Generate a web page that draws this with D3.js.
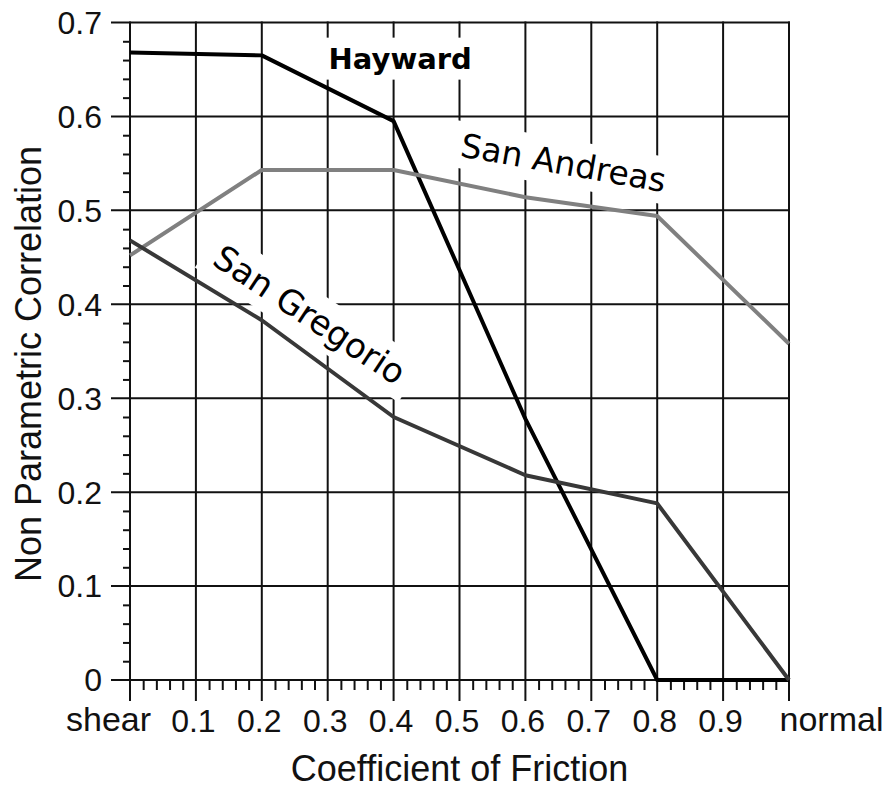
<!DOCTYPE html>
<html><head><meta charset="utf-8">
<script src="https://cdn.jsdelivr.net/npm/d3@7"></script>
<style>body{margin:0;background:#fff}svg{display:block}</style>
</head><body><svg id="c" width="889" height="789"></svg>
<script>
// ---- data ----
const frictionValues = [0, 0.2, 0.4, 0.6, 0.8, 1.0];
const hayward     = [0.668, 0.665, 0.595, 0.278, 0.0, 0.0];
const sanAndreas  = [0.452, 0.543, 0.543, 0.514, 0.494, 0.358];
const sanGregorio = [0.468, 0.383, 0.280, 0.218, 0.188, 0.0];
const seriesNames = ["Hayward", "San Andreas", "San Gregorio"];
const xTickValues = [0, 0.1, 0.2, 0.3, 0.4, 0.5, 0.6, 0.7, 0.8, 0.9, 1.0];
const xTickLabels = ["shear", "0.1", "0.2", "0.3", "0.4", "0.5", "0.6", "0.7", "0.8", "0.9", "normal"];
const yTickValues = [0, 0.1, 0.2, 0.3, 0.4, 0.5, 0.6, 0.7];
const yTickLabels = ["0", "0.1", "0.2", "0.3", "0.4", "0.5", "0.6", "0.7"];
const xTitle = "Coefficient of Friction";
const yTitle = "Non Parametric Correlation";

// ---- layout ----
const svg = d3.select("#c");
const x = d3.scaleLinear().domain([0, 1]).range([130, 789]);
const y = d3.scaleLinear().domain([0, 0.7]).range([680, 22.5]);
const numFont = "'Liberation Sans', Arial, sans-serif";
const wordFont = "'Liberation Sans', Arial, sans-serif";
const labelFont = "'DejaVu Sans', Verdana, sans-serif";
const ink = "#111";

const series = [
  {name: seriesNames[0], values: hayward, color: "#000000", lx: 0.41, ly: 0.662, angle: 0, bold: true, size: 29},
  {name: seriesNames[1], values: sanAndreas, color: "#808080", lx: 0.658, ly: 0.551, angle: 10, bold: false, size: 33},
  {name: seriesNames[2], values: sanGregorio, color: "#383838", lx: 0.273, ly: 0.389, angle: 33.5, bold: false, size: 34}
];

// grid
const grid = svg.append("g").attr("stroke", ink).attr("stroke-width", 2);
grid.selectAll("line.v").data(xTickValues).join("line")
  .attr("x1", d => x(d)).attr("x2", d => x(d))
  .attr("y1", y(0.7) - 1).attr("y2", y(0) + 21);
grid.selectAll("line.h").data(yTickValues).join("line")
  .attr("x1", x(0) - 19).attr("x2", x(1) + 1)
  .attr("y1", d => y(d)).attr("y2", d => y(d));

// minor ticks via axes
const xMinor = d3.range(0, 1.0001, 0.02).filter(v => Math.abs(v * 10 - Math.round(v * 10)) > 1e-6);
const yMinor = d3.range(0, 0.7001, 0.02).filter(v => Math.abs(v * 10 - Math.round(v * 10)) > 1e-6);
const gxm = svg.append("g").attr("transform", `translate(0,${y(0)})`)
  .call(d3.axisBottom(x).tickValues(xMinor).tickSize(10).tickFormat(""));
const gym = svg.append("g").attr("transform", `translate(${x(0)},0)`)
  .call(d3.axisLeft(y).tickValues(yMinor).tickSize(7).tickFormat(""));
[gxm, gym].forEach(g => {
  g.select(".domain").remove();
  g.selectAll("line").attr("stroke", ink).attr("stroke-width", 2);
});

// tick labels via axes
const gx = svg.append("g").attr("transform", `translate(0,${y(0)})`)
  .call(d3.axisBottom(x).tickValues(xTickValues).tickSize(0).tickPadding(29)
    .tickFormat((d, i) => xTickLabels[i]));
gx.select(".domain").remove();
gx.selectAll("text").attr("fill", ink).attr("font-family", numFont).attr("font-size", 32)
  .attr("dy", "0.71em")
  .each(function (d, i) {
    const t = d3.select(this);
    if (i === 0) t.attr("font-family", wordFont).attr("font-size", 34).attr("dx", -22).attr("transform", "translate(0,-2)");
    else if (i === xTickValues.length - 1) t.attr("font-family", wordFont).attr("font-size", 34).attr("dx", 42).attr("transform", "translate(0,-2)");
    else t.attr("dx", -3);
  });

const gy = svg.append("g").attr("transform", `translate(${x(0)},0)`)
  .call(d3.axisLeft(y).tickValues(yTickValues).tickSize(0).tickPadding(28)
    .tickFormat((d, i) => yTickLabels[i]));
gy.select(".domain").remove();
gy.selectAll("text").attr("fill", ink).attr("font-family", numFont).attr("font-size", 32).attr("dy", "0.34em");

// axis titles
svg.append("text").attr("x", x(0.5)).attr("y", 781).attr("text-anchor", "middle")
  .attr("font-family", wordFont).attr("font-size", 36).attr("fill", ink).text(xTitle);
svg.append("text").attr("transform", `translate(41,${364}) rotate(-90)`).attr("text-anchor", "middle")
  .attr("font-family", wordFont).attr("font-size", 36).attr("fill", ink).text(yTitle);

// label boxes (white backgrounds over grid)
const labels = svg.append("g");
const labelGroups = labels.selectAll("g").data(series).join("g")
  .attr("transform", d => `translate(${x(d.lx)},${y(d.ly)}) rotate(${d.angle})`);
labelGroups.append("rect").attr("fill", "#fff");
labelGroups.append("text")
  .attr("text-anchor", "middle").attr("dy", "0.36em")
  .attr("font-family", labelFont).attr("font-weight", d => d.bold ? "bold" : "normal")
  .attr("font-size", d => d.size).attr("fill", "#000").text(d => d.name);
labelGroups.each(function () {
  const g = d3.select(this);
  const b = g.select("text").node().getBBox();
  g.select("rect").attr("x", b.x - 11).attr("y", b.y - 4).attr("width", b.width + 22).attr("height", b.height + 8);
});

// data lines
const line = d3.line().x((d, i) => x(frictionValues[i])).y(d => y(d));
svg.append("g").selectAll("path").data(series).join("path")
  .attr("d", d => line(d.values)).attr("fill", "none")
  .attr("stroke", d => d.color).attr("stroke-width", 4).attr("stroke-linejoin", "round");

// bring label texts above lines
labels.raise();
labelGroups.select("rect").attr("fill-opacity", 1);
</script></body></html>
